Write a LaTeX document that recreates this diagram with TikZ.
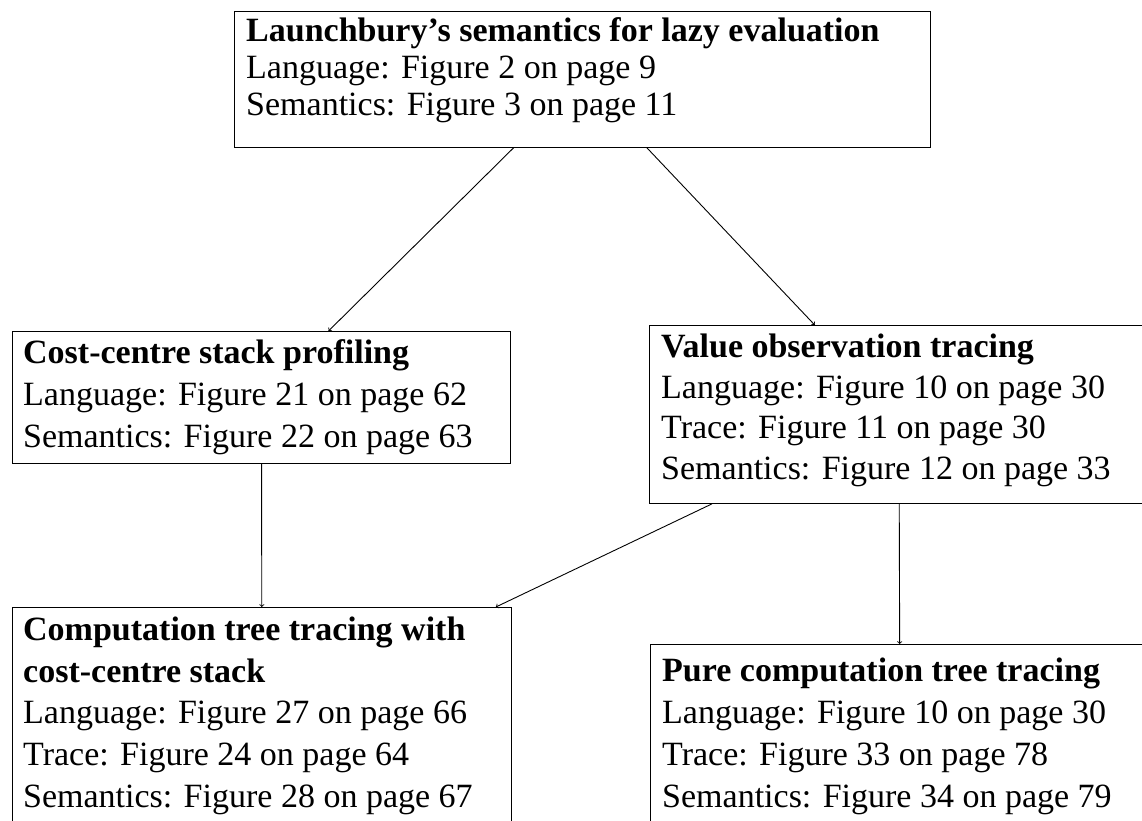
\documentclass[tikz,border=0pt]{standalone}
\usepackage{fontspec}
\setmainfont{Liberation Serif}
\begin{document}
\begin{tikzpicture}[x=1pt,y=-1pt,
  box/.style={draw, line width=0.9pt, rectangle, anchor=north west, minimum width=499pt, inner sep=0pt},
  ln/.style={anchor=base west, inner sep=0pt, font=\fontsize{34}{40}\selectfont},
  ttl/.style={ln, font=\fontsize{34}{40}\selectfont\bfseries},
  arr/.style={->, line width=0.9pt}]
\useasboundingbox (0,0) rectangle (1142,821);
% boxes
\node[box, minimum width=696pt, minimum height=136pt] (top) at (234,11) {};
\node[box, minimum width=498pt, minimum height=132pt] (ccs) at (12,331) {};
\node[box, minimum height=178pt] (vot) at (649,325) {};
\node[box, minimum height=224pt] (ctt) at (12,607) {};
\node[box, minimum height=182pt] (pct) at (650,644) {};
% top text
\node[ttl] (t1) at (246,42) {Launchbury's semantics for lazy evaluation};
\node[ln] (t2) at (246,79) {Language: Figure 2 on page 9};
\node[ln] (t3) at (246,116) {Semantics: Figure 3 on page 11};
% cost-centre
\node[ttl] (c1) at (23,363) {Cost-centre stack profiling};
\node[ln] (c2) at (23,405) {Language: Figure 21 on page 62};
\node[ln] (c3) at (23,447) {Semantics: Figure 22 on page 63};
% value observation
\node[ttl] (v1) at (661,357) {Value observation tracing};
\node[ln] (v2) at (661,398) {Language: Figure 10 on page 30};
\node[ln] (v3) at (661,438) {Trace: Figure 11 on page 30};
\node[ln] (v4) at (661,479) {Semantics: Figure 12 on page 33};
% computation tree with ccs
\node[ttl] (k1) at (23,640) {Computation tree tracing with};
\node[ttl] (k2) at (23,682) {cost-centre stack};
\node[ln] (k3) at (23,723) {Language: Figure 27 on page 66};
\node[ln] (k4) at (23,765) {Trace: Figure 24 on page 64};
\node[ln] (k5) at (23,807) {Semantics: Figure 28 on page 67};
% pure computation tree
\node[ttl] (p1) at (662,681) {Pure computation tree tracing};
\node[ln] (p2) at (662,723) {Language: Figure 10 on page 30};
\node[ln] (p3) at (662,765) {Trace: Figure 33 on page 78};
\node[ln] (p4) at (662,807) {Semantics: Figure 34 on page 79};
% arrows (centre to centre, clipped at borders)
\draw[arr] (top) -- (ccs);
\draw[arr] (top) -- (vot);
\draw[arr] (ccs) -- (ctt);
\draw[arr] (vot) -- (ctt);
\draw[arr] (vot) -- (pct);
\end{tikzpicture}
\end{document}
